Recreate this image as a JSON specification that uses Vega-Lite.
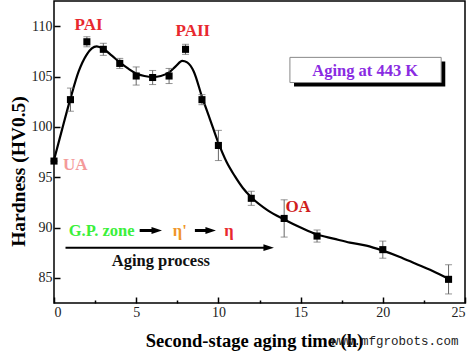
{
  "$schema": "https://vega.github.io/schema/vega-lite/v6.json",
  "autosize": {"type": "none"},
  "width": 411,
  "height": 302,
  "padding": {"left": 54, "top": 1, "right": 7, "bottom": 49},
  "background": "white",
  "config": {
    "view": {"stroke": "black", "strokeWidth": 1.5},
    "font": "Liberation Serif",
    "axis": {
      "labelFont": "Liberation Serif",
      "labelFontSize": 14,
      "labelColor": "#222",
      "titleFont": "Liberation Serif",
      "titleFontWeight": "bold",
      "titleColor": "black",
      "grid": false,
      "domain": false,
      "tickColor": "black",
      "tickWidth": 1.5
    }
  },
  "datasets": {
    "pts": [
      {"t": 0, "hv": 96.6, "lo": 96.6, "hi": 96.6},
      {"t": 1, "hv": 102.7, "lo": 101.55, "hi": 103.85},
      {"t": 2, "hv": 108.45, "lo": 107.95, "hi": 108.95},
      {"t": 3, "hv": 107.7, "lo": 107.1, "hi": 108.3},
      {"t": 4, "hv": 106.3, "lo": 105.8, "hi": 106.8},
      {"t": 5, "hv": 105.05, "lo": 104.15, "hi": 105.95},
      {"t": 6, "hv": 104.9, "lo": 104.2, "hi": 105.6},
      {"t": 7, "hv": 105.05, "lo": 104.3, "hi": 105.8},
      {"t": 8, "hv": 107.7, "lo": 107.2, "hi": 108.2},
      {"t": 9, "hv": 102.7, "lo": 102.2, "hi": 103.2},
      {"t": 10, "hv": 98.15, "lo": 96.65, "hi": 99.65},
      {"t": 12, "hv": 92.9, "lo": 92.2, "hi": 93.6},
      {"t": 14, "hv": 90.9, "lo": 89.05, "hi": 92.75},
      {"t": 16, "hv": 89.15, "lo": 88.55, "hi": 89.75},
      {"t": 20, "hv": 87.8, "lo": 86.95, "hi": 88.65},
      {"t": 24, "hv": 84.85, "lo": 83.4, "hi": 86.3}
    ],
    "curve": [
      {"t": 0, "hv": 96.7}, {"t": 0.5, "hv": 99.8}, {"t": 1, "hv": 102.8},
      {"t": 1.5, "hv": 105.5}, {"t": 2, "hv": 107.2}, {"t": 2.3, "hv": 107.8},
      {"t": 2.6, "hv": 108.0}, {"t": 3, "hv": 107.75}, {"t": 3.5, "hv": 107.1},
      {"t": 4, "hv": 106.4}, {"t": 4.5, "hv": 105.8}, {"t": 5, "hv": 105.3},
      {"t": 5.5, "hv": 105.05}, {"t": 6, "hv": 104.95}, {"t": 6.5, "hv": 105.05},
      {"t": 7, "hv": 105.4}, {"t": 7.4, "hv": 106.0}, {"t": 7.8, "hv": 106.55},
      {"t": 8.1, "hv": 106.4}, {"t": 8.5, "hv": 105.5}, {"t": 9, "hv": 103.0},
      {"t": 9.5, "hv": 100.7}, {"t": 10, "hv": 98.4}, {"t": 10.5, "hv": 96.5},
      {"t": 11, "hv": 95.1}, {"t": 11.5, "hv": 93.9}, {"t": 12, "hv": 93.0},
      {"t": 13, "hv": 91.7}, {"t": 14, "hv": 90.8}, {"t": 15, "hv": 90.0},
      {"t": 16, "hv": 89.3}, {"t": 17, "hv": 88.9}, {"t": 18, "hv": 88.5},
      {"t": 19, "hv": 88.2}, {"t": 20, "hv": 87.7}, {"t": 21, "hv": 87.1},
      {"t": 22, "hv": 86.4}, {"t": 23, "hv": 85.7}, {"t": 24, "hv": 84.9}
    ],
    "labels": [
      {"t": 2.1, "hv": 110.1, "txt": "PAI", "c": "red1", "fs": "big"},
      {"t": 8.45, "hv": 109.5, "txt": "PAII", "c": "red1", "fs": "big"},
      {"t": 1.3, "hv": 96.25, "txt": "UA", "c": "pink", "fs": "big"},
      {"t": 14.85, "hv": 92.0, "txt": "OA", "c": "red2", "fs": "big"},
      {"t": 2.9, "hv": 89.7, "txt": "G.P. zone", "c": "green", "fs": "mid"},
      {"t": 7.65, "hv": 89.7, "txt": "η'", "c": "orange", "fs": "mid"},
      {"t": 10.64, "hv": 89.7, "txt": "η", "c": "red1", "fs": "mid"},
      {"t": 6.5, "hv": 86.7, "txt": "Aging process", "c": "black", "fs": "mid"},
      {"t": 18.93, "hv": 105.55, "txt": "Aging at 443 K", "c": "purple", "fs": "mid"}
    ],
    "arrows": [
      {"t": 5.21, "t2": 6.25, "hv": 89.7, "head": 6.25, "w": "thin"},
      {"t": 8.57, "t2": 9.53, "hv": 89.7, "head": 9.53, "w": "thin"},
      {"t": 0.7, "t2": 13.0, "hv": 88.0, "head": 13.06, "w": "thick"}
    ],
    "box": [
      {"t": 14.35, "t2": 23.55, "hv": 106.9, "hv2": 104.4}
    ],
    "shadow": [
      {"t": 14.6, "t2": 23.8, "hv": 106.5, "hv2": 104.0}
    ],
    "mark": [
      {"t": 24.6, "hv": 78.7, "txt": "www.mfgrobots.com"}
    ]
  },
  "layer": [
    {
      "data": {"name": "shadow"},
      "mark": {"type": "rect", "color": "black"},
      "encoding": {
        "x": {"field": "t", "type": "quantitative", "scale": {"domain": [0, 25], "nice": false, "zero": false},
          "title": "Second-stage aging time (h)",
          "axis": {
            "values": [0, 2.5, 5, 7.5, 10, 12.5, 15, 17.5, 20, 22.5, 25],
            "tickSize": {"condition": {"test": "datum.value % 5 === 0", "value": -6}, "value": -3},
            "labelExpr": "datum.value % 5 === 0 ? datum.label : ''",
            "labelPadding": 8,
            "titleFontSize": 18.5,
            "titleX": 200,
            "titleY": 37,
            "titleBaseline": "middle",
            "titleAlign": "center"
          }},
        "x2": {"field": "t2"},
        "y": {"field": "hv", "type": "quantitative", "scale": {"domain": [82.5, 112.5], "nice": false, "zero": false},
          "title": "Hardness (HV0.5)",
          "axis": {
            "values": [85, 87.5, 90, 92.5, 95, 97.5, 100, 102.5, 105, 107.5, 110],
            "tickSize": {"condition": {"test": "datum.value % 5 === 0", "value": -6}, "value": -3},
            "labelExpr": "datum.value % 5 === 0 ? datum.label : ''",
            "labelPadding": 8,
            "titleFontSize": 19.5,
            "titleX": -36,
            "titleY": 170,
            "titleBaseline": "middle",
            "titleAlign": "center",
            "titleAngle": -90
          }},
        "y2": {"field": "hv2"}
      }
    },
    {
      "data": {"name": "box"},
      "mark": {"type": "rect", "fill": "white", "stroke": "#888", "strokeWidth": 1},
      "encoding": {
        "x": {"field": "t", "type": "quantitative", "title": "Second-stage aging time (h)"},
        "x2": {"field": "t2"},
        "y": {"field": "hv", "type": "quantitative", "title": "Hardness (HV0.5)"},
        "y2": {"field": "hv2"}
      }
    },
    {
      "data": {"name": "curve"},
      "mark": {"type": "line", "color": "black", "strokeWidth": 2.2, "interpolate": "monotone"},
      "encoding": {
        "x": {"field": "t", "type": "quantitative", "title": "Second-stage aging time (h)"},
        "y": {"field": "hv", "type": "quantitative", "title": "Hardness (HV0.5)"}
      }
    },
    {
      "data": {"name": "pts"},
      "mark": {"type": "errorbar", "ticks": {"size": 7, "color": "#666", "strokeWidth": 1}, "rule": {"color": "#666", "strokeWidth": 1}},
      "encoding": {
        "x": {"field": "t", "type": "quantitative", "title": "Second-stage aging time (h)"},
        "y": {"field": "lo", "type": "quantitative", "title": "Hardness (HV0.5)"},
        "y2": {"field": "hi"}
      }
    },
    {
      "data": {"name": "pts"},
      "mark": {"type": "point", "shape": "square", "filled": true, "color": "black", "size": 50, "opacity": 1},
      "encoding": {
        "x": {"field": "t", "type": "quantitative", "title": "Second-stage aging time (h)"},
        "y": {"field": "hv", "type": "quantitative", "title": "Hardness (HV0.5)"}
      }
    },
    {
      "data": {"name": "arrows"},
      "mark": {"type": "rule", "color": "black"},
      "encoding": {
        "x": {"field": "t", "type": "quantitative", "title": "Second-stage aging time (h)"},
        "x2": {"field": "t2"},
        "y": {"field": "hv", "type": "quantitative", "title": "Hardness (HV0.5)"},
        "strokeWidth": {"field": "w", "type": "nominal", "scale": {"domain": ["thin", "thick"], "range": [3, 2]}, "legend": null}
      }
    },
    {
      "data": {"name": "arrows"},
      "mark": {"type": "point", "shape": "M-1,-0.65L1,0L-1,0.65Z", "filled": true, "color": "black", "size": 110, "opacity": 1},
      "encoding": {
        "x": {"field": "head", "type": "quantitative", "title": "Second-stage aging time (h)"},
        "y": {"field": "hv", "type": "quantitative", "title": "Hardness (HV0.5)"}
      }
    },
    {
      "data": {"name": "labels"},
      "mark": {"type": "text", "font": "Liberation Serif", "fontWeight": "bold", "baseline": "middle", "align": "center"},
      "encoding": {
        "x": {"field": "t", "type": "quantitative", "title": "Second-stage aging time (h)"},
        "y": {"field": "hv", "type": "quantitative", "title": "Hardness (HV0.5)"},
        "text": {"field": "txt"},
        "color": {"field": "c", "type": "nominal", "legend": null,
          "scale": {"domain": ["red1", "red2", "pink", "green", "orange", "black", "purple"],
                    "range": ["#e8282e", "#d01e1e", "#f49a9a", "#3bf03b", "#f0962a", "#111111", "#8a2be2"]}},
        "size": {"field": "fs", "type": "nominal", "legend": null,
          "scale": {"domain": ["big", "mid"], "range": [17, 16.5]}}
      }
    },
    {
      "data": {"name": "mark"},
      "mark": {"type": "text", "font": "Liberation Mono", "fontSize": 12.5, "align": "right", "baseline": "middle", "color": "#222", "clip": false},
      "encoding": {
        "x": {"field": "t", "type": "quantitative", "title": "Second-stage aging time (h)"},
        "y": {"field": "hv", "type": "quantitative", "title": "Hardness (HV0.5)"},
        "text": {"field": "txt"}
      }
    }
  ]
}
